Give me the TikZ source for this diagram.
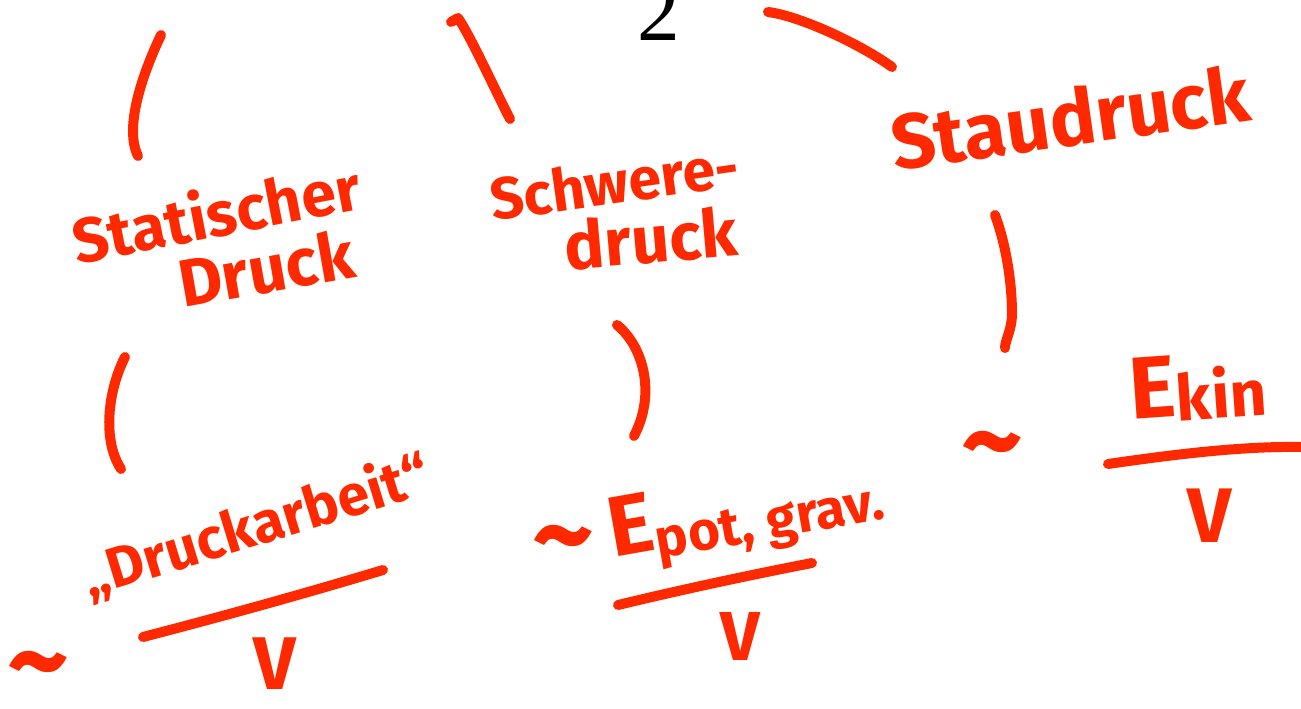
\documentclass[tikz,border=0pt]{standalone}
\usepackage{fontspec}
\setmainfont{Fira Sans}
\newfontfamily\numfont{Liberation Serif}
\definecolor{ink}{RGB}{255,41,0}
\tikzset{
  stroke/.style={draw=ink, line width=7.5pt, line cap=round, line join=round},
  hand/.style={text=ink, inner sep=0pt, font=\bfseries},
}
\newcommand{\fs}[1]{\fontsize{#1}{#1}\selectfont}
\begin{document}
\begin{tikzpicture}[x=0.75pt,y=-0.75pt]
\useasboundingbox (0,0) rectangle (1301,709);
% page number
\node[anchor=base, inner sep=0pt, font=\numfont\fs{64}] (num) at (659,41) {2};
% bracket strokes
\draw[stroke] (161,35) .. controls (142,75) and (124,128) .. (138,156);
\draw[stroke] (451,22) -- (458,18) .. controls (470,35) and (495,90) .. (510,119);
\draw[stroke] (768,12) .. controls (800,16) and (860,44) .. (892,67);
\draw[stroke] (995,215) .. controls (1008,250) and (1012,290) .. (1012,313) .. controls (1012,330) and (1005,340) .. (1005,348);
\draw[stroke] (125,357) .. controls (108,390) and (102,440) .. (121,469);
\draw[stroke] (617,325) .. controls (642,345) and (657,392) .. (634,436);
% fraction bars
\draw[stroke] (143,637) .. controls (220,617) and (300,595) .. (383,570);
\draw[stroke] (618,605) .. controls (680,590) and (750,575) .. (812,563);
\draw[stroke] (1108,464) .. controls (1170,455) and (1240,446) .. (1301,447);
% headings
\node[hand, rotate=11, font=\bfseries\fs{47}] (stat) at (216,212) {Statischer};
\node[hand, rotate=10, font=\bfseries\fs{50}] (druck1) at (266,268) {Druck};
\node[hand, rotate=8, font=\bfseries\fs{44}] (schw) at (614,182) {Schwere-};
\node[hand, rotate=5, font=\bfseries\fs{50}] (druck2) at (651,238) {druck};
\node[hand, rotate=8, font=\bfseries\fs{58}] (stau) at (1070,117) {Staudruck};
% numerators
\node[hand, font=\bfseries\fs{90}] (t1) at (38,676) {\textasciitilde};
\node[hand, rotate=17, font=\bfseries\fs{43}] (arb) at (256,527) {„Druckarbeit“};
\node[hand, font=\bfseries\fs{90}] (t2) at (563,550) {\textasciitilde};
\node[hand, rotate=10, font=\bfseries\fs{64}, anchor=base west] (epot) at (613,558) {E\raisebox{-0.1em}{\fs{41}pot, grav.}};
\node[hand, font=\bfseries\fs{90}] (t3) at (992,456) {\textasciitilde};
\node[hand, rotate=4, font=\bfseries\fs{66}, anchor=base west] (ekin) at (1131,420) {E\raisebox{-0.05em}{\fs{48}kin}};
% denominators
\node[hand, font=\bfseries\fs{56}] (v1) at (275,664) {V};
\node[hand, font=\bfseries\fs{52}] (v2) at (740,636) {V};
\node[hand, font=\bfseries\fs{58}] (v3) at (1210,516) {V};
\end{tikzpicture}
\end{document}
